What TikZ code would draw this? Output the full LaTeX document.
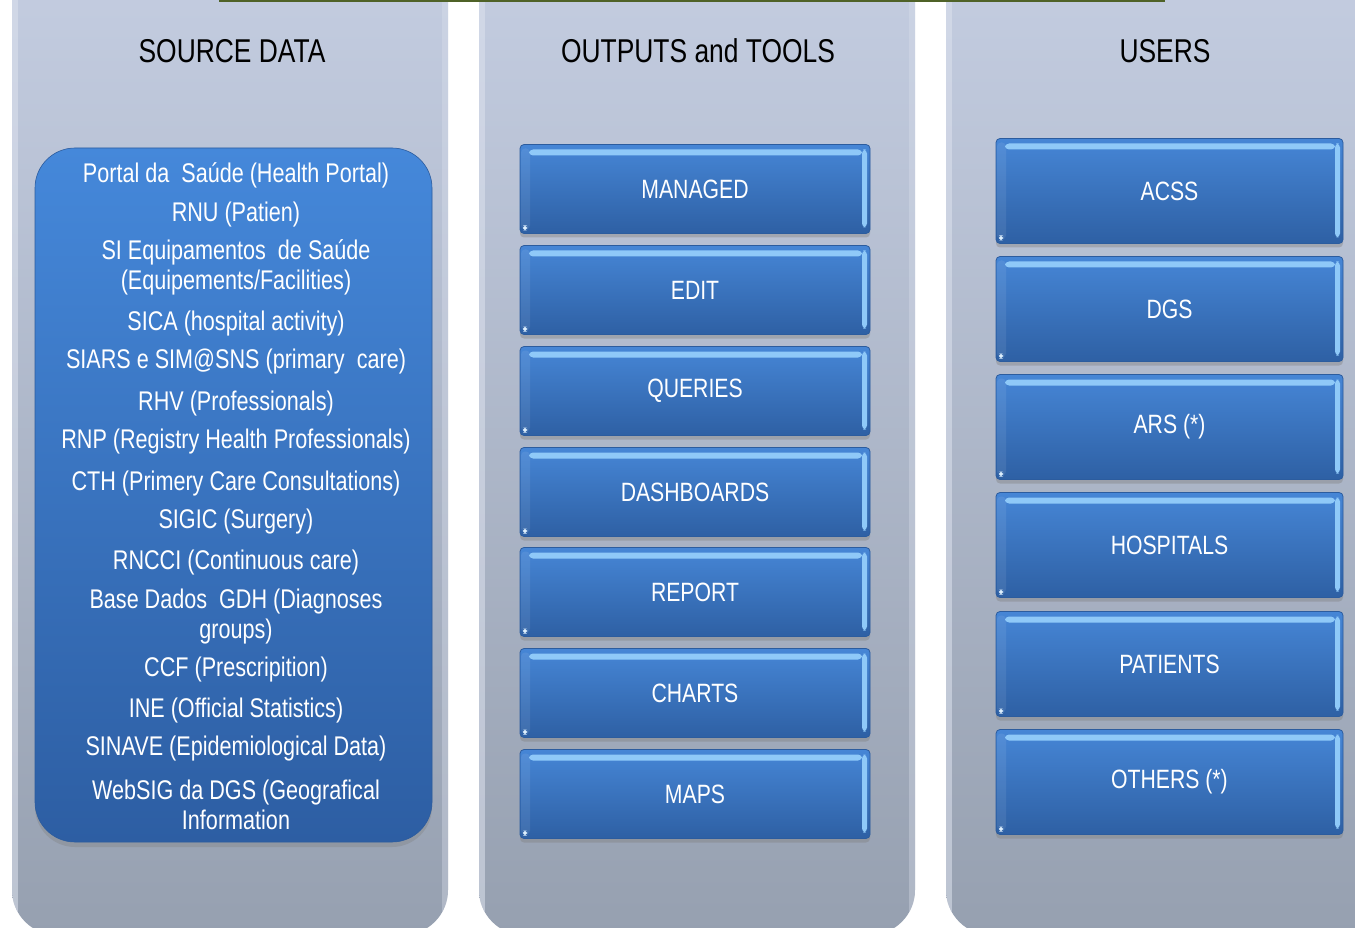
\documentclass[tikz,border=0pt]{standalone}
\usepackage{fontspec}
\setmainfont{Liberation Sans}[FakeStretch=0.8]
\usetikzlibrary{shadows}
\definecolor{colTop}{HTML}{C6CFE3}
\definecolor{colBot}{HTML}{96A0B0}
\definecolor{colEdge}{HTML}{DDE2EE}
\definecolor{btnTop}{HTML}{4686D6}
\definecolor{btnBot}{HTML}{2E60A4}
\definecolor{btnEdge}{HTML}{2C5C9E}
\definecolor{hlite}{HTML}{8FC9F8}
\definecolor{srcTop}{HTML}{4588DA}
\definecolor{srcBot}{HTML}{2D5EA3}
\definecolor{topline}{HTML}{4F6228}
\tikzset{
  column/.style={top color=colTop, bottom color=colBot, rounded corners=45pt},
  heading/.style={text=black, font=\fontsize{33}{38}\selectfont, inner sep=0pt},
  item/.style={text=white, font=\fontsize{27}{30}\selectfont, align=center, inner sep=0pt, yshift=-2.5pt},
  srcbox/.style={rectangle, rounded corners=40pt, minimum width=397pt, minimum height=694pt,
    top color=srcTop, bottom color=srcBot, draw=btnEdge, line width=0.6pt,
    drop shadow={shadow xshift=0pt, shadow yshift=-5pt, opacity=0.35}},
  btn/.style={rectangle, rounded corners=4pt, minimum width=350pt, minimum height=89pt,
    top color=btnTop, bottom color=btnBot, draw=btnEdge, line width=0.8pt,
    text=white, font=\fontsize{26.5}{30}\selectfont,
    drop shadow={shadow xshift=0pt, shadow yshift=-4pt, opacity=0.4},
    path picture={
      \fill[white, opacity=0.08] ([xshift=1pt,yshift=-4pt]path picture bounding box.north west) rectangle ([xshift=10pt,yshift=4pt]path picture bounding box.south west);
      \fill[hlite] ([xshift=9pt,yshift=-5pt]path picture bounding box.north west) rectangle ([xshift=-8pt,yshift=-11pt]path picture bounding box.north east);
      \fill[hlite] ([xshift=-8pt,yshift=-5pt]path picture bounding box.north east) rectangle ([xshift=-3pt,yshift=6pt]path picture bounding box.south east);
      \fill[white!70!hlite] ([xshift=3pt,yshift=3pt]path picture bounding box.south west) rectangle ([xshift=7pt,yshift=8pt]path picture bounding box.south west);
    }},
  ubtn/.style={btn, minimum width=347pt, minimum height=105pt}
}
\begin{document}
\begin{tikzpicture}[x=1pt,y=-1pt]
\useasboundingbox (0,0) rectangle (1355,928);
\clip (0,0) rectangle (1355,928);
\fill[white] (0,0) rectangle (1355,928);
% columns
\foreach \xa/\xb in {12/448, 479/915, 946/1420}{
  \shade[column] (\xa,-80) rectangle (\xb,935);
  \begin{scope}
    \clip[rounded corners=45pt] (\xa,-80) rectangle (\xb,935);
    \fill[colEdge, opacity=0.55] (\xa,-80) rectangle (\xa+6,935);
    \fill[colEdge, opacity=0.35] (\xb-6,-80) rectangle (\xb,935);
  \end{scope}
}
% top line
\fill[topline] (219,0) rectangle (1165,2.5);
% headings
\node[heading] (h1) at (232,51) {SOURCE DATA};
\node[heading] (h2) at (698,51) {OUTPUTS and TOOLS};
\node[heading] (h3) at (1165,51) {USERS};
% source box
\node[srcbox] (src) at (233.5,495) {};
\node[item] (s1) at (236,173) {Portal da\ \ Saúde (Health Portal)};
\node[item] (s2) at (236,212) {RNU (Patien)};
\node[item] (s3) at (236,265) {SI Equipamentos\ \ de Saúde\\(Equipements/Facilities)};
\node[item] (s4) at (236,321) {SICA (hospital activity)};
\node[item] (s5) at (236,359) {SIARS e SIM@SNS (primary\ \ care)};
\node[item] (s6) at (236,401) {RHV (Professionals)};
\node[item] (s7) at (236,439) {RNP (Registry Health Professionals)};
\node[item] (s8) at (236,481) {CTH (Primery Care Consultations)};
\node[item] (s9) at (236,519) {SIGIC (Surgery)};
\node[item] (s10) at (236,560) {RNCCI (Continuous care)};
\node[item] (s11) at (236,614) {Base Dados\ \ GDH (Diagnoses\\groups)};
\node[item] (s12) at (236,667) {CCF (Prescripition)};
\node[item] (s13) at (236,708) {INE (Official Statistics)};
\node[item] (s14) at (236,746) {SINAVE (Epidemiological Data)};
\node[item] (s15) at (236,802) {WebSIG da DGS (Geografical\\Information};
% outputs
\node[btn] (o1) at (695,189) {MANAGED};
\node[btn] (o2) at (695,290) {EDIT};
\node[btn] (o3) at (695,391) {QUERIES};
\node[btn] (o4) at (695,492) {DASHBOARDS};
\node[btn] (o5) at (695,592) {REPORT};
\node[btn] (o6) at (695,693) {CHARTS};
\node[btn] (o7) at (695,794) {MAPS};
% users
\node[ubtn] (u1) at (1169.5,191) {ACSS};
\node[ubtn] (u2) at (1169.5,309) {DGS};
\node[ubtn] (u3) at (1169.5,427) {ARS (*)};
\node[ubtn] (u4) at (1169.5,545) {HOSPITALS};
\node[ubtn] (u5) at (1169.5,664) {PATIENTS};
\node[ubtn] (u6) at (1169.5,782) {OTHERS (*)};
\end{tikzpicture}
\end{document}
